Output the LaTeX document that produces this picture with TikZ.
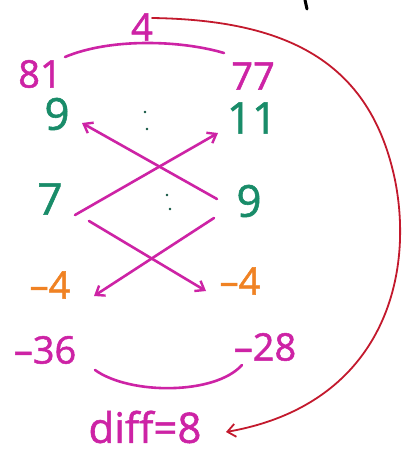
\documentclass[tikz,border=0pt]{standalone}
\usepackage{fontspec}
\setmainfont{Open Sans}
\newfontfamily\hand[FakeBold=1.3]{Open Sans}
\usetikzlibrary{arrows.meta}
\definecolor{mag}{RGB}{205,35,165}
\definecolor{grn}{RGB}{25,140,105}
\definecolor{org}{RGB}{240,130,35}
\definecolor{rd}{RGB}{195,25,45}
\tikzset{
  num/.style={inner sep=0pt, font=\hand\fontsize{38}{40}\selectfont},
  bignum/.style={inner sep=0pt, font=\hand\fontsize{44}{46}\selectfont},
  magnum/.style={num, text=mag},
  grnnum/.style={bignum, text=grn},
  orgnum/.style={num, text=org},
  stroke/.style={line width=2.6pt, line cap=round, draw=mag},
  cross/.style={stroke, -{Straight Barb[length=8pt,width=12pt,line width=2.4pt]}},
  dotmark/.style={fill=grn!60!black, draw=none}
}
\begin{document}
\begin{tikzpicture}[x=1pt,y=-1pt]
\useasboundingbox (0,0) rectangle (402,463);
\fill[white] (0,0) rectangle (402,463);
% top
\node[magnum] (four) at (142,27) {4};
\node[magnum] (n81) at (40,74) {81};
\node[magnum] (n77) at (253,76) {77};
\draw[stroke] (65,57) .. controls (110,38) and (180,40) .. (224,53);
% green row 1
\node[grnnum] (g9a) at (57,114) {9};
\node[grnnum] (g11) at (252,118) {11};
\fill[dotmark] (145,112) circle (1.3pt) (147,129) circle (1.3pt);
% green row 2
\node[grnnum] (g7) at (50,199) {7};
\node[grnnum] (g9b) at (249,201) {9};
\fill[dotmark] (167,195) circle (1.3pt) (170,209) circle (1.3pt);
% orange
\node[orgnum] (o4a) at (50,285) {–4};
\node[orgnum] (o4b) at (240,281) {–4};
% bottom
\node[magnum] (m36) at (45,350) {–36};
\node[magnum] (m28) at (265,347) {–28};
\draw[stroke] (95,370) .. controls (130,395) and (215,395) .. (242,365);
\node[magnum, font=\hand\fontsize{42}{44}\selectfont] (diff) at (145,427) {diff=8};
% crossing arrows
\coordinate (a1s) at (217,199);
\coordinate (a1e) at (82,123);
\coordinate (a2s) at (75,215);
\coordinate (a2e) at (218,133);
\coordinate (a3s) at (89,221);
\coordinate (a3e) at (206,291);
\coordinate (a4s) at (214,218);
\coordinate (a4e) at (94,296);
\draw[cross] (a1s) -- (a1e);
\draw[cross] (a2s) -- (a2e);
\draw[cross] (a3s) -- (a3e);
\draw[cross] (a4s) -- (a4e);
% red curve
\coordinate (rs) at (152,18);
\coordinate (re) at (226,432);
\draw[line width=1.8pt, draw=rd, line cap=round, -{Straight Barb[length=8pt,width=13pt,line width=1.8pt]}]
  (rs) .. controls (285,20) and (370,60) .. (395,180)
       .. controls (415,280) and (380,405) .. (re);
% stray black mark
\draw[line width=3pt, line cap=round] (305,0) -- (307,9);
\end{tikzpicture}
\end{document}
